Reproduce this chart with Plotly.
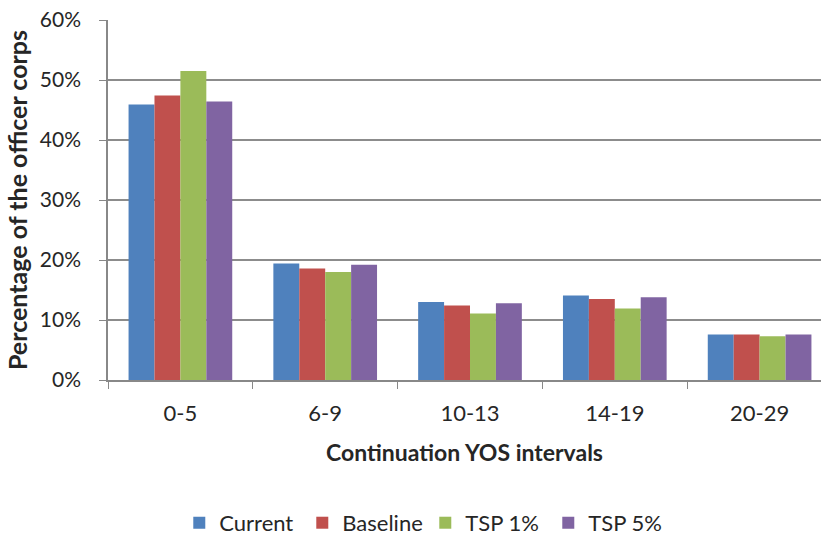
import plotly.graph_objects as go

# Continuation YOS intervals and share of the officer corps (%) per scenario
categories = ["0-5", "6-9", "10-13", "14-19", "20-29"]
current = [45.9, 19.4, 13.0, 14.1, 7.6]
baseline = [47.4, 18.6, 12.4, 13.5, 7.6]
tsp_1 = [51.5, 18.0, 11.1, 11.9, 7.3]
tsp_5 = [46.4, 19.2, 12.8, 13.8, 7.6]

series = [
    ("Current", current, "#4F81BD"),
    ("Baseline", baseline, "#C0504D"),
    ("TSP 1%", tsp_1, "#9BBB59"),
    ("TSP 5%", tsp_5, "#8064A2"),
]

FONT = "Lato, Carlito, Calibri, sans-serif"
TEXT = "#262626"

fig = go.Figure()
for name, vals, color in series:
    fig.add_trace(go.Bar(
        name=name,
        x=categories,
        y=[v / 100 for v in vals],
        marker=dict(color=color, line=dict(width=0)),
    ))

fig.update_layout(
    width=821,
    height=539,
    barmode="group",
    bargap=0.284,
    bargroupgap=0,
    plot_bgcolor="white",
    paper_bgcolor="white",
    margin=dict(l=108, r=0, t=20, b=159, autoexpand=False),
    font=dict(family=FONT, size=20, color=TEXT),
    legend=dict(
        orientation="h",
        x=0.445,
        xanchor="center",
        y=-0.397,
        yanchor="middle",
        font=dict(size=22, color=TEXT),
        entrywidth=78,
        entrywidthmode="pixels",
        itemsizing="constant",
    ),
    xaxis=dict(
        range=[-0.5, 4.424],
        automargin=False,
        showline=True,
        linecolor="#888888",
        linewidth=1.5,
        ticks="outside",
        tickson="boundaries",
        ticklen=7,
        tickcolor="#888888",
        tickfont=dict(size=22),
        ticklabelstandoff=13,
        title=dict(
            text="<b>Continuation YOS intervals</b>",
            font=dict(size=23),
            standoff=20,
        ),
    ),
    yaxis=dict(
        range=[0, 0.6],
        dtick=0.1,
        automargin=False,
        tickformat=".0%",
        showgrid=True,
        gridcolor="#8c8c8c",
        gridwidth=1.5,
        showline=True,
        linecolor="#888888",
        linewidth=1.5,
        ticks="outside",
        ticklen=7,
        tickcolor="#888888",
        tickfont=dict(size=21),
        ticklabelstandoff=14,
        zeroline=False,
        title=dict(
            text="<b>Percentage of the officer corps</b>",
            font=dict(size=25),
            standoff=5,
        ),
    ),
)

fig.write_html("out.html")
